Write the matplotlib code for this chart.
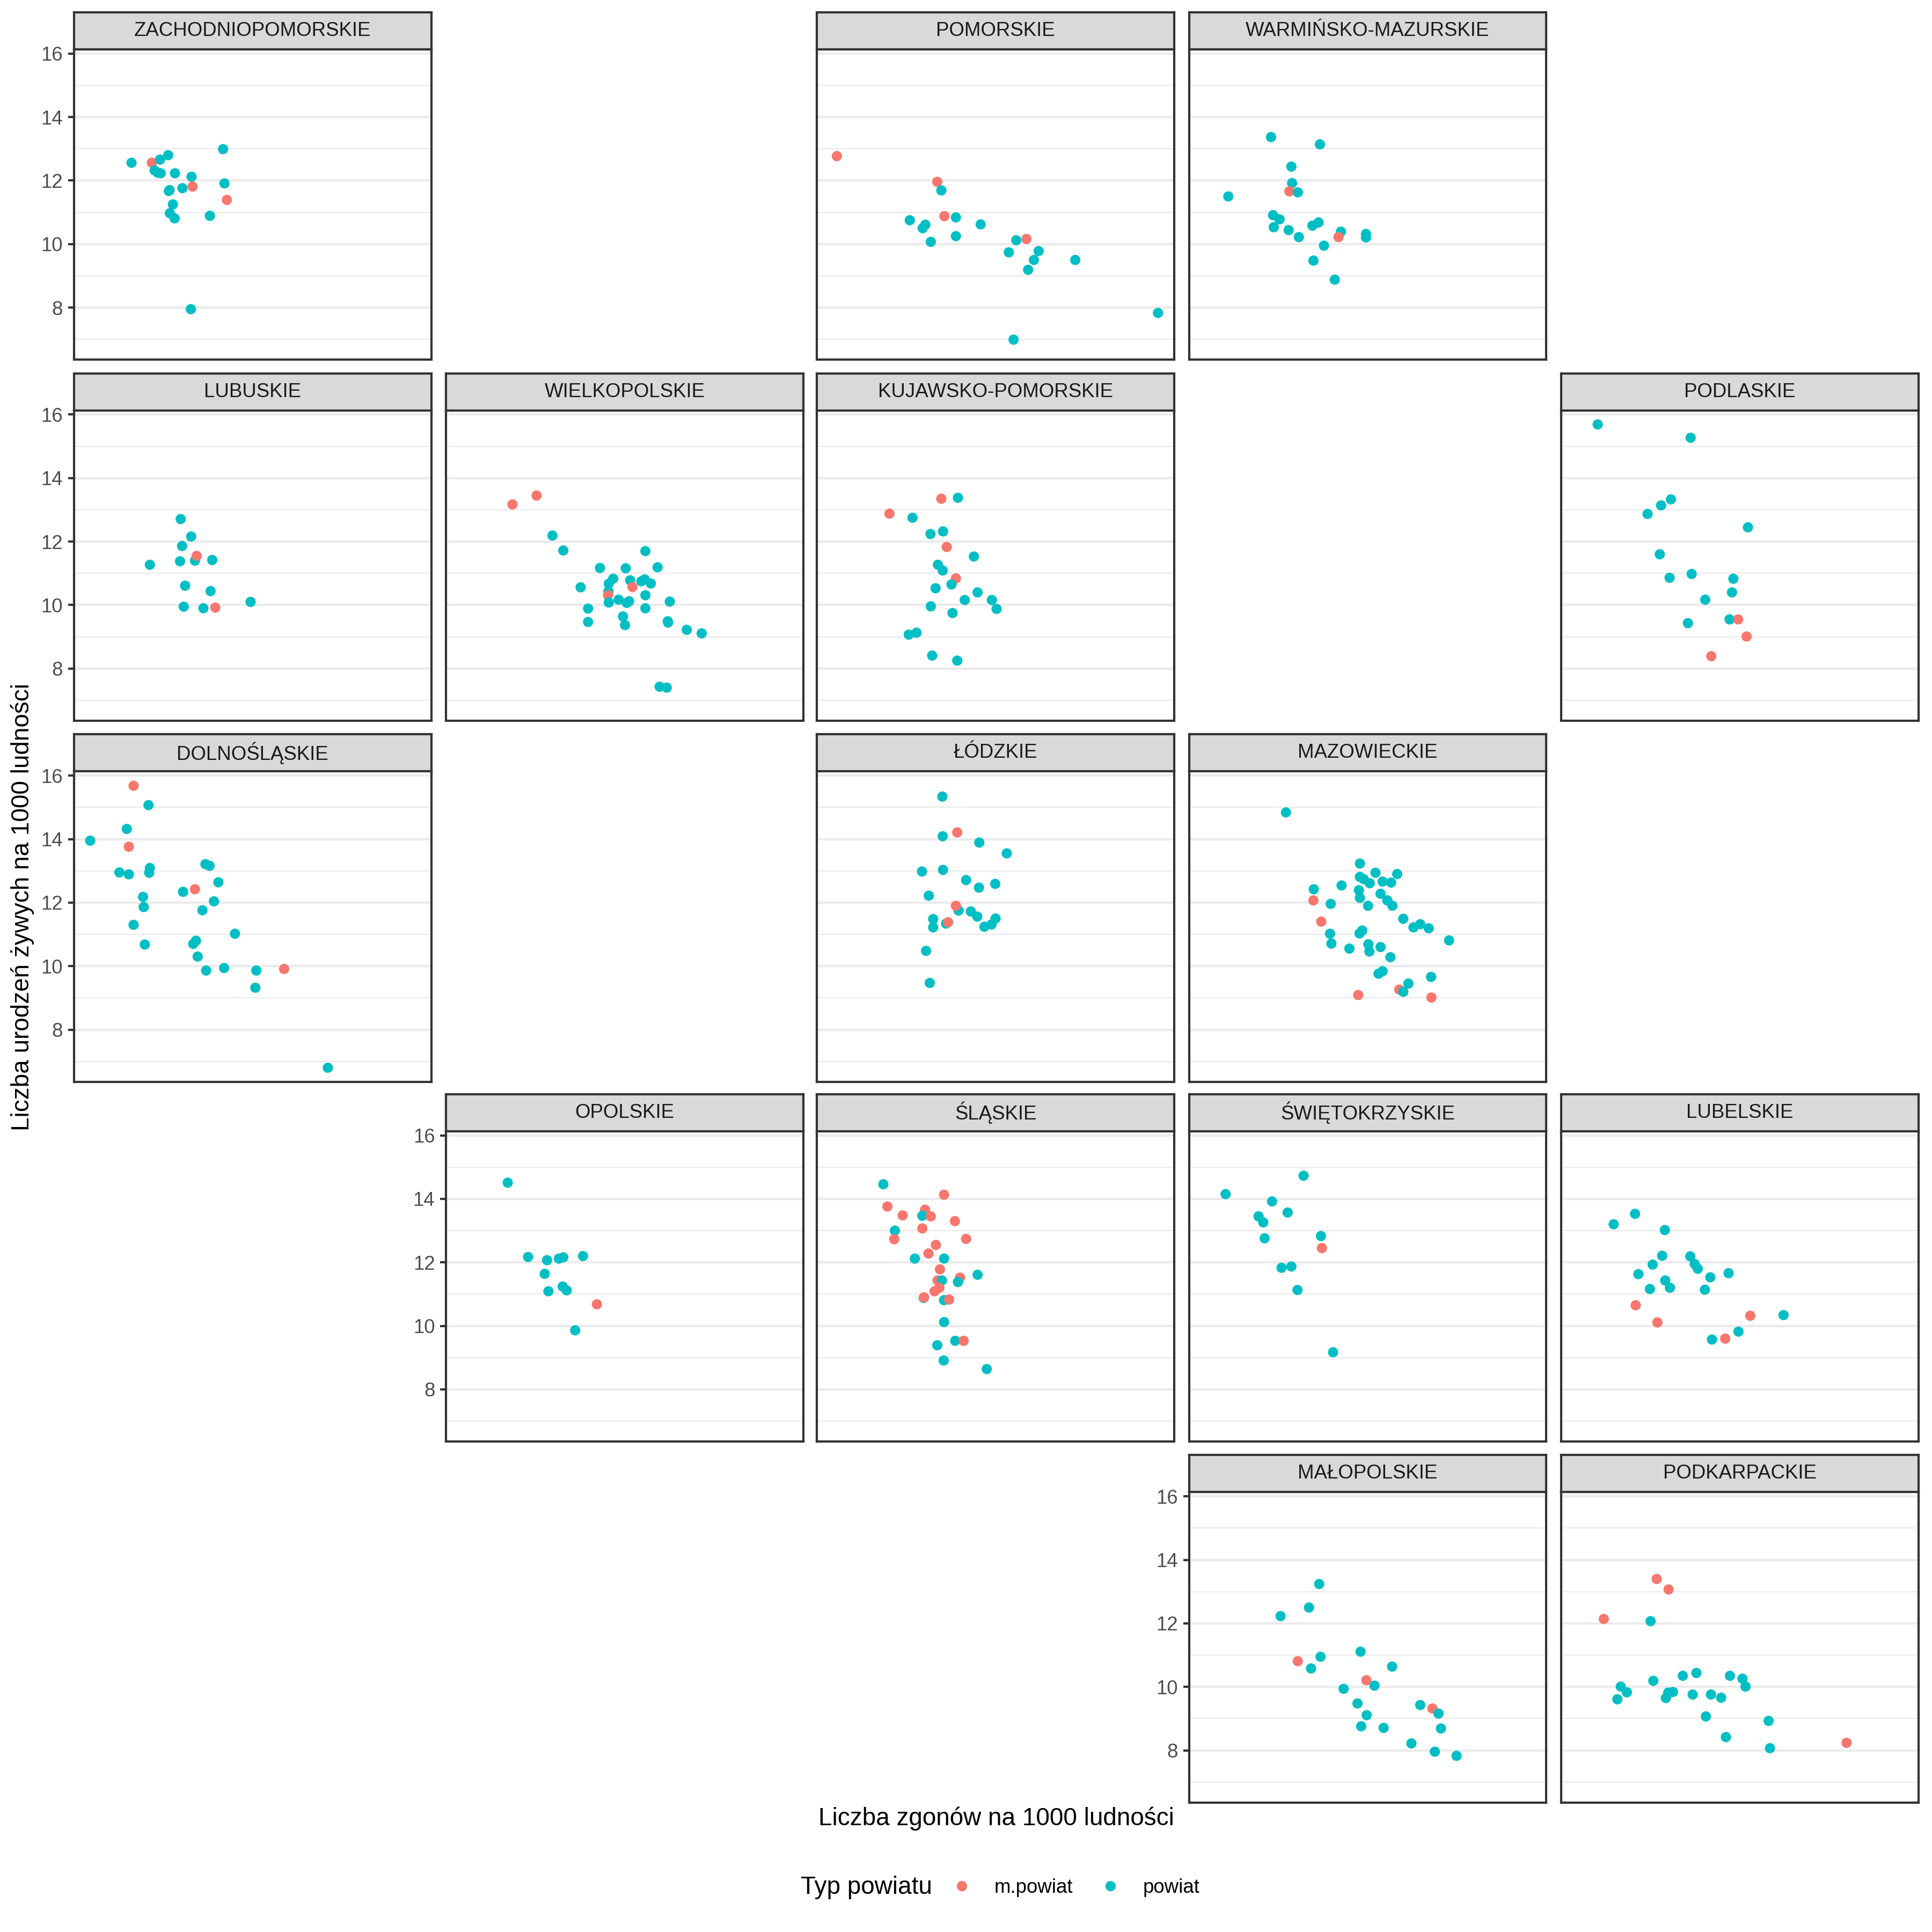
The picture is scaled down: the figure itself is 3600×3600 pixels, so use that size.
import matplotlib
matplotlib.use("Agg")
import matplotlib.pyplot as plt
from matplotlib.lines import Line2D

plt.rcParams["font.family"] = ["Liberation Sans", "DejaVu Sans"]

# deaths (x) and live births (y) per 1000 inhabitants, per powiat; typ: m = m.powiat, p = powiat
zach_x = [10.87, 8.17, 8.77, 9.25, 9.01, 8.85, 8.94, 9.03, 9.45, 9.94, 10.91, 9.97, 9.67, 9.29, 9.27, 10.98, 9.39, 9.30, 9.44, 10.48, 9.92]
zach_y = [12.99, 12.56, 12.56, 12.80, 12.66, 12.32, 12.25, 12.23, 12.23, 12.12, 11.91, 11.81, 11.76, 11.70, 11.67, 11.39, 11.25, 10.97, 10.81, 10.89, 7.95]
zach_typ = "ppmppppppppmpppmppppp"

pom_x = [7.06, 10.02, 10.14, 9.21, 9.67, 9.59, 10.23, 10.57, 11.30, 10.57, 9.83, 12.35, 12.65, 12.13, 13.01, 12.87, 14.09, 12.70, 16.53, 12.27]
pom_y = [12.77, 11.96, 11.69, 10.75, 10.61, 10.50, 10.88, 10.84, 10.62, 10.25, 10.07, 10.12, 10.16, 9.74, 9.78, 9.50, 9.50, 9.19, 7.83, 6.99]
pom_typ = "mmppppmpppppmppppppp"

warm_x = [8.89, 10.33, 9.49, 9.51, 9.43, 9.68, 7.63, 8.95, 9.14, 8.97, 9.41, 10.29, 10.11, 9.71, 10.95, 10.88, 11.69, 11.69, 10.45, 10.14, 10.77]
warm_y = [13.37, 13.14, 12.44, 11.92, 11.66, 11.63, 11.50, 10.91, 10.78, 10.53, 10.44, 10.68, 10.58, 10.22, 10.39, 10.22, 10.32, 10.21, 9.95, 9.48, 8.88]
warm_typ = "ppppmppppppppppmppppp"

lubu_x = [9.62, 9.93, 9.66, 10.04, 10.09, 9.60, 10.55, 8.71, 9.75, 10.50, 9.71, 10.29, 10.64, 11.68]
lubu_y = [12.71, 12.16, 11.86, 11.40, 11.55, 11.38, 11.42, 11.27, 10.61, 10.44, 9.95, 9.90, 9.92, 10.10]
lubu_typ = "ppppm" + "p" * 7 + "mp"

wlkp_x = [8.43, 9.14, 9.61, 9.93, 12.35, 11.01, 11.77, 12.71, 11.40, 11.27, 11.90, 12.23, 12.33, 12.51, 10.44, 11.26, 11.25, 11.97,
          12.35, 11.27, 11.56, 11.80, 11.87, 13.07, 10.66, 10.66, 12.35, 11.69, 11.75, 13.01, 13.02, 13.57, 14.01, 12.77, 12.98]
wlkp_y = [13.17, 13.45, 12.19, 11.72, 11.70, 11.17, 11.16, 11.19, 10.83, 10.67, 10.78, 10.75, 10.81, 10.68, 10.56, 10.43, 10.31, 10.57,
          10.31, 10.08, 10.17, 10.07, 10.12, 10.11, 9.89, 9.47, 9.90, 9.64, 9.37, 9.49, 9.45, 9.22, 9.11, 7.43, 7.40]
wlkp_typ = "mm" + "p" * 14 + "mm" + "p" * 17

kuj_x = [10.14, 10.63, 8.61, 9.29, 9.82, 10.19, 10.30, 11.10, 10.04, 10.18, 10.57, 10.44, 9.97, 11.21, 10.83, 11.63, 11.77, 9.83, 10.47, 9.18, 9.41, 9.87, 10.61]
kuj_y = [13.35, 13.38, 12.88, 12.75, 12.24, 12.32, 11.83, 11.53, 11.27, 11.09, 10.84, 10.65, 10.53, 10.40, 10.16, 10.16, 9.88, 9.96, 9.75, 9.07, 9.13, 8.41, 8.25]
kuj_typ = "mpmpppmpppm" + "p" * 12

podl_x = [7.55, 10.29, 9.71, 9.42, 9.02, 11.98, 9.38, 9.67, 10.32, 11.55, 11.51, 10.72, 10.21, 11.44, 11.69, 11.94, 10.90]
podl_y = [15.69, 15.27, 13.33, 13.14, 12.87, 12.45, 11.60, 10.86, 10.98, 10.83, 10.40, 10.17, 9.43, 9.55, 9.55, 9.01, 8.39]
podl_typ = "p" * 14 + "mmm"

dolno_x = [8.23, 8.67, 8.03, 6.95, 8.09, 7.81, 8.09, 8.71, 8.69, 10.35, 10.47, 10.73, 9.69, 10.04, 8.51, 8.53, 10.60, 10.26, 8.23,
           11.22, 8.56, 9.99, 10.07, 10.12, 10.37, 10.90, 11.85, 12.67, 11.82, 13.96]
dolno_y = [15.68, 15.07, 14.32, 13.95, 13.76, 12.95, 12.89, 13.09, 12.94, 13.21, 13.16, 12.64, 12.34, 12.42, 12.18, 11.86, 12.04, 11.76,
           11.30, 11.02, 10.68, 10.70, 10.80, 10.30, 9.86, 9.94, 9.86, 9.91, 9.32, 6.80]
dolno_typ = "mpppm" + "p" * 8 + "m" + "p" * 13 + "mpp"

lodz_x = [10.17, 10.18, 10.61, 11.26, 12.07, 9.57, 10.19, 10.87, 11.25, 11.73, 9.77, 10.65, 10.57, 11.01, 11.20, 11.74, 11.62, 11.41,
          9.90, 9.90, 10.28, 10.34, 9.69, 9.80]
lodz_y = [15.34, 14.09, 14.21, 13.89, 13.55, 12.98, 13.03, 12.71, 12.47, 12.59, 12.22, 11.75, 11.90, 11.72, 11.56, 11.50, 11.31, 11.24,
          11.48, 11.22, 11.34, 11.38, 10.48, 9.47]
lodz_typ = "ppmppppppppp" + "m" + "p" * 8 + "mpp"

maz_x = [9.33, 11.51, 11.97, 12.61, 11.51, 11.62, 11.80, 12.18, 12.43, 10.15, 10.97, 10.14, 11.48, 11.51, 12.12, 12.32, 12.47, 11.75,
         10.65, 10.37, 12.79, 13.09, 13.29, 13.54, 14.14, 10.63, 10.67, 11.50, 11.58, 11.20, 11.76, 11.79, 12.12, 12.41, 12.06, 12.18,
         13.61, 12.94, 12.67, 12.79, 11.46, 13.62]
maz_y = [14.84, 13.23, 12.94, 12.90, 12.81, 12.74, 12.61, 12.66, 12.63, 12.42, 12.54, 12.07, 12.39, 12.15, 12.28, 12.07, 11.90, 11.90,
         11.96, 11.40, 11.49, 11.22, 11.32, 11.19, 10.81, 11.02, 10.71, 11.03, 11.12, 10.55, 10.69, 10.46, 10.60, 10.28, 9.76, 9.84,
         9.66, 9.45, 9.26, 9.19, 9.09, 9.01]
maz_typ = "p" * 11 + "m" + "p" * 7 + "m" + "p" * 18 + "mpmm"

opol_x = [8.29, 8.89, 9.45, 9.80, 9.93, 10.51, 9.38, 9.91, 10.03, 9.49, 10.92, 10.28]
opol_y = [14.51, 12.17, 12.07, 12.12, 12.16, 12.20, 11.64, 11.24, 11.12, 11.09, 10.68, 9.86]
opol_typ = "p" * 10 + "mp"

slask_x = [8.43, 10.22, 8.55, 9.00, 9.66, 9.58, 9.83, 10.54, 8.77, 8.75, 9.58, 10.87, 9.98, 9.76, 9.36, 10.22, 10.10, 11.21, 10.69,
           10.63, 10.03, 10.16, 10.08, 9.94, 9.62, 9.63, 10.22, 10.37, 10.22, 10.55, 10.80, 10.02, 10.21, 11.48]
slask_y = [14.46, 14.13, 13.76, 13.48, 13.66, 13.47, 13.45, 13.30, 13.00, 12.73, 13.07, 12.74, 12.55, 12.28, 12.12, 12.12, 11.78, 11.61,
           11.52, 11.38, 11.43, 11.43, 11.20, 11.09, 10.88, 10.90, 10.81, 10.83, 10.12, 9.53, 9.53, 9.39, 8.91, 8.64]
slask_typ = "pmmmmpmmpmmmmmppmpmpmpmmpmpmppmppp"

swiet_x = [7.55, 9.85, 8.92, 8.52, 8.66, 9.38, 8.70, 10.36, 10.39, 9.20, 9.49, 9.67, 10.72]
swiet_y = [14.15, 14.73, 13.92, 13.45, 13.26, 13.57, 12.76, 12.83, 12.45, 11.83, 11.87, 11.13, 9.17]
swiet_typ = "p" * 8 + "m" + "p" * 4

lubel_x = [8.02, 8.65, 9.53, 9.45, 9.17, 8.75, 10.28, 10.41, 10.50, 10.87, 11.41, 9.54, 9.68, 9.09, 10.71, 8.67, 9.31, 12.05,
           13.03, 11.70, 10.92, 11.31]
lubel_y = [13.20, 13.53, 13.02, 12.21, 11.93, 11.63, 12.19, 11.95, 11.80, 11.53, 11.66, 11.43, 11.20, 11.16, 11.14, 10.65, 10.11, 10.32,
           10.34, 9.82, 9.57, 9.60]
lubel_typ = "p" * 15 + "mmm" + "ppp" + "m"

malo_x = [10.31, 10.01, 9.17, 11.53, 10.35, 9.68, 10.07, 12.46, 11.70, 11.94, 11.03, 11.44, 13.29, 13.65, 13.83, 11.71, 11.55, 12.21,
          13.90, 13.03, 13.72, 14.36]
malo_y = [13.24, 12.50, 12.23, 11.11, 10.95, 10.81, 10.58, 10.64, 10.21, 10.04, 9.94, 9.48, 9.43, 9.32, 9.16, 9.11, 8.76, 8.71,
          8.69, 8.22, 7.96, 7.83]
malo_typ = "pppppmppmppppm" + "p" * 8

podk_x = [9.29, 9.64, 7.73, 9.11, 10.06, 10.46, 11.45, 11.82, 11.91, 9.19, 8.23, 8.41, 8.13, 9.63, 9.77, 9.56, 10.35, 10.89,
          11.19, 10.74, 12.59, 11.33, 12.63, 14.89]
podk_y = [13.40, 13.07, 12.14, 12.07, 10.35, 10.44, 10.35, 10.26, 10.01, 10.19, 10.01, 9.83, 9.61, 9.82, 9.84, 9.65, 9.76, 9.76,
          9.66, 9.07, 8.93, 8.42, 8.07, 8.24]
podk_typ = "mmm" + "p" * 20 + "m"

regions = {
    "ZACHODNIOPOMORSKIE": (zach_x, zach_y, zach_typ),
    "POMORSKIE": (pom_x, pom_y, pom_typ),
    "WARMIŃSKO-MAZURSKIE": (warm_x, warm_y, warm_typ),
    "LUBUSKIE": (lubu_x, lubu_y, lubu_typ),
    "WIELKOPOLSKIE": (wlkp_x, wlkp_y, wlkp_typ),
    "KUJAWSKO-POMORSKIE": (kuj_x, kuj_y, kuj_typ),
    "PODLASKIE": (podl_x, podl_y, podl_typ),
    "DOLNOŚLĄSKIE": (dolno_x, dolno_y, dolno_typ),
    "ŁÓDZKIE": (lodz_x, lodz_y, lodz_typ),
    "MAZOWIECKIE": (maz_x, maz_y, maz_typ),
    "OPOLSKIE": (opol_x, opol_y, opol_typ),
    "ŚLĄSKIE": (slask_x, slask_y, slask_typ),
    "ŚWIĘTOKRZYSKIE": (swiet_x, swiet_y, swiet_typ),
    "LUBELSKIE": (lubel_x, lubel_y, lubel_typ),
    "MAŁOPOLSKIE": (malo_x, malo_y, malo_typ),
    "PODKARPACKIE": (podk_x, podk_y, podk_typ),
}

# geofacet-like grid: (row, col)
grid = {
    "ZACHODNIOPOMORSKIE": (0, 0), "POMORSKIE": (0, 2), "WARMIŃSKO-MAZURSKIE": (0, 3),
    "LUBUSKIE": (1, 0), "WIELKOPOLSKIE": (1, 1), "KUJAWSKO-POMORSKIE": (1, 2), "PODLASKIE": (1, 4),
    "DOLNOŚLĄSKIE": (2, 0), "ŁÓDZKIE": (2, 2), "MAZOWIECKIE": (2, 3),
    "OPOLSKIE": (3, 1), "ŚLĄSKIE": (3, 2), "ŚWIĘTOKRZYSKIE": (3, 3), "LUBELSKIE": (3, 4),
    "MAŁOPOLSKIE": (4, 3), "PODKARPACKIE": (4, 4),
}

colors = {"m": "#F8766D", "p": "#00BFC4"}
labels = {"m": "m.powiat", "p": "powiat"}

# layout in reference pixels (1568 px canvas)
S = 1568.0
COL_LEFT = [60, 362, 663, 965, 1267]
ROW_TOP = [40, 333, 626, 918, 1211]
PANEL_W, PANEL_H, STRIP_H = 290, 252, 30

all_x = [v for xs, _, _ in regions.values() for v in xs]
all_y = [v for _, ys, _ in regions.values() for v in ys]
xpad = 0.05 * (max(all_x) - min(all_x))
ypad = 0.05 * (max(all_y) - min(all_y))
xlim = (min(all_x) - xpad, max(all_x) + xpad)
ylim = (min(all_y) - ypad, max(all_y) + ypad)

first_col = {}
for r, c in grid.values():
    first_col[r] = min(first_col.get(r, 99), c)

fig = plt.figure(figsize=(12, 12), dpi=300)

for name, (r, c) in grid.items():
    xs, ys, typ = regions[name]
    left = COL_LEFT[c] / S
    bottom = 1 - (ROW_TOP[r] + PANEL_H) / S
    ax = fig.add_axes([left, bottom, PANEL_W / S, PANEL_H / S])
    ax.set_xlim(*xlim)
    ax.set_ylim(*ylim)
    ax.set_xticks([])
    ax.set_yticks([8, 10, 12, 14, 16])
    ax.set_yticks([7, 9, 11, 13, 15], minor=True)
    ax.grid(axis="y", which="major", color="#EBEBEB", lw=1.07)
    ax.grid(axis="y", which="minor", color="#EBEBEB", lw=0.53)
    ax.set_axisbelow(True)
    for sp in ax.spines.values():
        sp.set_color("#333333")
        sp.set_linewidth(1.0)
    ax.tick_params(axis="y", which="minor", length=0)
    if c == first_col[r]:
        ax.tick_params(axis="y", which="major", length=2.75, width=1.0, color="#333333",
                       labelsize=8.8, labelcolor="#4D4D4D", pad=2.2)
    else:
        ax.tick_params(axis="y", which="major", length=0, labelleft=False)
    cols = [colors[t] for t in typ]
    ax.scatter(xs, ys, c=cols, s=21, linewidths=0, zorder=3)

    sax = fig.add_axes([left, 1 - ROW_TOP[r] / S, PANEL_W / S, STRIP_H / S])
    sax.set_facecolor("#D9D9D9")
    sax.set_xticks([])
    sax.set_yticks([])
    for sp in sax.spines.values():
        sp.set_color("#333333")
        sp.set_linewidth(1.0)
    sax.text(0.5, 0.5, name, ha="center", va="center", fontsize=8.8, color="#1A1A1A",
             transform=sax.transAxes)

fig.text(808.5 / S, 1 - 1476 / S, "Liczba zgonów na 1000 ludności", ha="center", va="center", fontsize=11)
fig.text(18 / S, 1 - 736 / S, "Liczba urodzeń żywych na 1000 ludności", ha="center", va="center",
         rotation=90, fontsize=11)

fig.text(650 / S, 1 - 1532 / S, "Typ powiatu", ha="left", va="center", fontsize=11)
handles = [Line2D([], [], marker="o", ls="", color=colors[k], markersize=4.6, markeredgewidth=0, label=labels[k])
           for k in ("m", "p")]
fig.legend(handles=handles, loc="center left", bbox_to_anchor=(771 / S, 1 - 1532 / S), ncol=2, frameon=False,
           fontsize=8.8, handletextpad=1.05, columnspacing=1.3, borderpad=0, borderaxespad=0, handlelength=1.2)

fig.savefig("out.png", dpi=300, facecolor="white")
